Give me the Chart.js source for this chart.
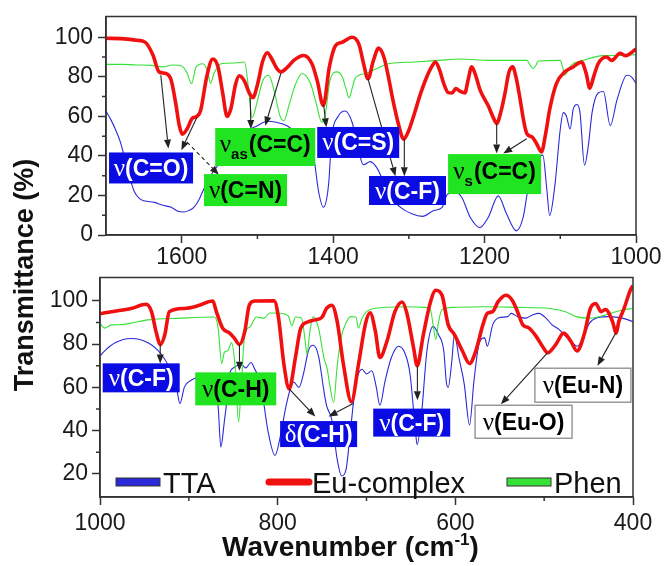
<!DOCTYPE html>
<html>
<head>
<meta charset="utf-8">
<script src="https://cdn.jsdelivr.net/npm/chart.js@4.4.1/dist/chart.umd.min.js"></script>
<style>
  body { margin: 0; background: #fff; width: 665px; height: 566px; overflow: hidden; position: relative; font-family: "Liberation Sans", Arial, sans-serif; }
  #top { position: absolute; left: 0; top: 0; }
  #bot { position: absolute; left: 0; top: 262px; }
  #ytitle { position: absolute; left: -126px; top: 259px; width: 300px; height: 32px; line-height: 32px; text-align: center; font-weight: bold; font-size: 27px; color: #111; transform: rotate(-90deg); white-space: nowrap; }
  #xtitle { position: absolute; left: 84px; top: 532px; width: 533px; line-height: 30px; text-align: center; font-weight: bold; font-size: 28px; color: #111; white-space: nowrap; }
  #xtitle sup { font-size: 17px; vertical-align: 11px; line-height: 0; }
</style>
</head>
<body>
<canvas id="top" width="665" height="272"></canvas>
<canvas id="bot" width="665" height="304"></canvas>
<div id="ytitle">Transmittance (%)</div>
<div id="xtitle">Wavenumber (cm<sup>-1</sup>)</div>
<script>
// ---- upper panel, 1700-1000 cm-1 ----
var euTopWn = [1700,1680,1660,1648,1638,1630,1621,1614,1608,1603,1599,1593,1586,1580,1575,1567,1559,1552,1546,1540,1535,1529,1524,1517,1511,1506,1500,1493,1487,1481,1474,1469,1460,1452,1439,1428,1421,1413,1405,1397,1388,1375,1366,1360,1354,1347,1340,1333,1327,1322,1313,1307,1300,1293,1285,1278,1270,1265,1259,1254,1248,1243,1238,1232,1226,1222,1217,1212,1206,1195,1188,1184,1178,1173,1168,1163,1158,1153,1148,1144,1137,1131,1125,1119,1114,1105,1094,1083,1072,1066,1061,1056,1050,1039,1032,1021,1014,1000];
var euTopT  = [99.5,99.3,98.5,97.4,91,82.5,81.7,78.4,66.8,55,51,53.6,59,60,63,80,89,85,72,60,64,76,80.5,77.7,72,69.5,76,88,92.2,89,84,82.5,85,88.3,90.8,86.6,78,65.5,85,95.7,97.5,100,96.5,87,79,88,94.5,90,80,70,55,48.5,53,61,71,78.4,85,87.5,83,76.7,72,71.8,74,72.6,71.8,78,85,81,73.4,65.2,59,56.4,63,71.8,82,85,79,68.5,57,51.2,49.5,46,42,52,63.5,76.7,82.5,85,87.5,82,74.3,80,86.6,90,88.3,91.9,90.7,94];

var phenTopWn = [1700,1680,1660,1640,1625,1612,1600,1593,1587,1581,1572,1566,1562,1557,1548,1530,1517,1512,1507,1500,1493,1485,1478,1470,1465,1458,1450,1441,1430,1422,1415,1410,1404,1395,1388,1383,1379,1375,1371,1357,1342,1327,1293,1260,1232,1193,1144,1140,1136,1132,1129,1100,1097,1094,1090,1085,1072,1043,1020,1000];
var phenTopT  = [86.3,86.3,86,85.8,85,86,85.5,82,76.5,85,86.6,83,76.7,82,86.6,87,87.5,75,59.4,68,78,80.8,73,60,57.8,66,76,81.7,76.7,66,57,62,78.4,82.5,80,74,69.3,74,79.2,81.7,84.2,86.6,87.5,88.3,89,88.3,88.3,86,84.2,86,88,88.3,85,80.8,83,86,88,90.7,90.8,91.2];

var ttaTopWn = [1700,1694,1687,1681,1676,1672,1667,1663,1656,1650,1636,1625,1614,1605,1597,1590,1584,1577,1570,1561,1550,1535,1517,1500,1487,1475,1461,1450,1440,1432,1426,1419,1413,1406,1402,1393,1384,1375,1366,1360,1351,1342,1333,1324,1311,1296,1282,1267,1256,1249,1238,1230,1219,1206,1195,1182,1171,1158,1149,1143,1133,1123,1118,1114,1107,1100,1096,1092,1087,1083,1078,1074,1068,1063,1058,1050,1043,1034,1025,1012,1006,1000];
var ttaTopT  = [62.7,58.6,53,47,40,33.8,27,22.3,18.5,17.3,16.5,15,14,12,11.6,12.5,14,18,23.9,30.5,36.3,45.4,52,55.3,57.5,57,55.3,52,48,45,40,21.5,14,25.6,48.7,60.2,62.7,57,42,35.5,37.1,33.8,26.4,19,14,10.7,9.4,12.4,14,20.6,21.5,19,9,3.8,9,19.8,10.7,2.1,9,22.3,36,40.4,23.9,9.9,25.6,53.6,61.9,60.2,53.6,63.5,66,62,35.3,45,61.9,71.8,72.6,55.3,68.5,80.8,80,76.7];

// ---- lower panel, 1000-400 cm-1 ----
var euBotWn = [1000,987,965,948,942,937,932,927,922,905,890,873,869,862,854,849,843,837,832,826,804,799,793,787,780,774,765,758,750,745,739,733,726,717,709,701,696,690,685,677,668,660,655,647,643,636,628,622,615,608,601,592,584,577,569,564,558,552,543,536,530,524,517,509,502,496,487,478,470,463,455,448,442,436,431,423,419,416,410,403,400];
var euBotT  = [94,95,96.5,98.4,95,85.9,79.8,84.4,95,96.5,97.7,99.9,95,87.4,85.1,82.9,79.8,85.9,98,99.9,100,92,70.7,59.3,73.8,87.4,90.4,91.2,92.5,96.5,98,90.4,70.7,53.3,70.7,89.7,94.5,85.9,73.8,81.3,95,99.5,95,78.3,70,84.4,99.5,104.9,102.6,88.9,84.4,76.8,71,76.8,88.9,94.2,95,99.5,102.6,100.3,95,88.9,87.4,83.6,79,76,79.8,85.1,81.3,76.8,84.4,96.5,98.8,95,96,90.4,85.1,90.4,96.5,104.9,107];

var phenBotWn = [1000,995,987,976,965,946,909,871,867,863,860,856,852,848,844,841,837,831,824,815,809,798,788,784,780,773,769,767,764,760,754,748,744,741,737,733,728,724,718,712,709,705,700,692,655,634,628,625,622,619,615,602,569,530,494,476,464,449,431,412,400];
var phenBotT  = [89.7,87.4,88.9,89,89.7,91.2,92,92.5,87.4,71,76.2,77,80.7,70,44,61,84.4,88,92.5,92,94.4,94.3,93,88.5,92.5,92,81.3,75.3,85,92.7,87.4,73.8,68,60.1,53,70,84,88.9,92.7,92.5,87.4,92,95,96.5,97.3,97,96,88.9,82.1,90,96,97,97.3,97,96.5,95,92.7,92,93.5,95.8,96.5];

var ttaBotWn = [1000,995,983,965,946,931,922,914,910,905,897,888,879,873,867,864,860,856,854,849,841,836,830,826,819,811,803,797,790,782,776,771,765,760,754,748,745,739,733,728,723,718,712,705,700,694,689,685,679,672,664,657,651,645,643,638,632,625,619,613,610,608,604,601,596,590,584,579,573,567,564,558,551,541,537,530,521,513,506,498,491,483,476,468,463,457,449,440,427,412,400];
var ttaBotT  = [74.5,76.8,80.6,82.6,80.6,75.3,69.2,60.1,52.5,60.1,63.4,64.8,64.6,63,51,32.4,44.3,58,66.2,69.2,70.7,69,71.5,68.6,61.6,40,28.5,37.3,52.5,62.4,60,66.2,77.5,79.5,74.5,58.5,51.7,44.9,26.7,19.1,22.1,40.3,61.6,68.4,66.2,67.7,60.1,51.7,63.1,73.8,79,76,66.2,40.3,33.5,47.9,76.8,88.2,84.4,76.8,62,60,72,84.4,73.8,61.6,42.6,63.1,80.6,82.9,79,88.9,92.2,92.7,94.2,92.7,92,93.5,94.2,92,88.9,86.7,83.6,80.6,79,82.1,89.7,92.2,92.7,92,90.4];

var topXTicks = [1000, 1200, 1400, 1600];
var topXMinor = [1100, 1300, 1500];
var topYTicks = [0, 20, 40, 60, 80, 100];
var topYMinor = [10, 30, 50, 70, 90];
var botXTicks = [400, 600, 800, 1000];
var botXMinor = [500, 700, 900];
var botYTicks = [20, 40, 60, 80, 100];
var botYMinor = [30, 50, 70, 90];

var RED = '#f01010', BLUE = '#2a2ad8', GREEN = '#36e236';
var BLUE_BOX = '#0b0be3', GREEN_BOX = '#1fe41f';

// band labels: centre and arrows in data units
var topNotes = [
  { g: 'ν', t: '(C=O)', x: 1640.5, y: 33.9, w: 84, h: 31, bg: BLUE_BOX, fg: '#fff', arrows: [[1627.6, 80.8, 1617.6, 43.7], [1580, 59.4, 1600.5, 42.9]] },
  { g: 'ν', t: '(C=N)', x: 1515.7, y: 22.7, w: 83, h: 32, bg: GREEN_BOX, fg: '#000', dash: true, arrows: [[1593, 47, 1551, 30.5]] },
  { g: 'ν', s: 'as', t: '(C=C)', x: 1489.7, y: 44.5, w: 100, h: 38, bg: GREEN_BOX, fg: '#000', arrows: [[1509.5, 69.3, 1508.6, 53.6], [1469, 81.7, 1489.7, 55.3]] },
  { g: 'ν', t: '(C=S)', x: 1366.9, y: 46.8, w: 82, h: 31, bg: BLUE_BOX, fg: '#fff', arrows: [[1412.6, 66, 1409, 54.5]] },
  { g: 'ν', t: '(C-F)', x: 1301.8, y: 22.5, w: 77, h: 29, bg: BLUE_BOX, fg: '#fff', arrows: [[1354, 79, 1317.7, 29.7], [1306, 48.7, 1306, 29.7]] },
  { g: 'ν', s: 's', t: '(C=C)', x: 1186.8, y: 30.8, w: 93, h: 40, bg: GREEN_BOX, fg: '#000', arrows: [[1184, 56.1, 1184, 41.2], [1144.4, 48.7, 1175.3, 41.2]] }
];
var botNotes = [
  { g: 'ν', t: '(C-F)', x: 953.6, y: 64.4, w: 77, h: 29, bg: BLUE_BOX, fg: '#fff', arrows: [[932.2, 79.8, 932.2, 71]] },
  { g: 'ν', t: '(C-H)', x: 847.2, y: 59.3, w: 81, h: 33, bg: GREEN_BOX, fg: '#000', arrows: [[843, 79.8, 843, 67.7]] },
  { g: 'δ', t: '(C-H)', x: 753.9, y: 38.4, w: 77, h: 26, bg: BLUE_BOX, fg: '#fff', arrows: [[787, 59.3, 757.6, 46.5], [715, 52.5, 742.7, 46.5]] },
  { g: 'ν', t: '(C-F)', x: 649.1, y: 43.7, w: 77, h: 28, bg: BLUE_BOX, fg: '#fff', arrows: [[642.7, 69.9, 642.7, 54]] },
  { g: 'ν', t: '(Eu-O)', x: 523.2, y: 44.1, w: 97, h: 33, bg: '#fff', fg: '#000', edge: '#8a8a8a', arrows: [[496.3, 76, 548.7, 52.2]] },
  { g: 'ν', t: '(Eu-N)', x: 456.4, y: 61, w: 96, h: 34, bg: '#fff', fg: '#000', edge: '#8a8a8a', arrows: [[419.4, 85.1, 440, 70]] }
];

function pts(wn, t) {
  return wn.map(function (w, i) { return { x: w, y: t[i] }; });
}

function arrow(ctx, x1, y1, x2, y2, dash) {
  var ang = Math.atan2(y2 - y1, x2 - x1), L = 9, W = 3.5;
  var bx = x2 - L * Math.cos(ang), by = y2 - L * Math.sin(ang);
  ctx.strokeStyle = '#222';
  ctx.lineWidth = 1.1;
  ctx.setLineDash(dash ? [4, 3] : []);
  ctx.beginPath(); ctx.moveTo(x1, y1); ctx.lineTo(bx, by); ctx.stroke();
  ctx.setLineDash([]);
  ctx.fillStyle = '#222';
  ctx.beginPath();
  ctx.moveTo(x2, y2);
  ctx.lineTo(bx + W * Math.sin(ang), by - W * Math.cos(ang));
  ctx.lineTo(bx - W * Math.sin(ang), by + W * Math.cos(ang));
  ctx.closePath(); ctx.fill();
}

function box(ctx, n, cx, cy) {
  var x0 = cx - n.w / 2, y0 = cy - n.h / 2;
  ctx.fillStyle = n.bg;
  ctx.fillRect(x0, y0, n.w, n.h);
  if (n.edge) { ctx.strokeStyle = n.edge; ctx.lineWidth = 1.3; ctx.strokeRect(x0, y0, n.w, n.h); }
  var fBig = 'bold 23px "Liberation Sans"', fGreek = '25px "Liberation Serif"', fSub = 'bold 15px "Liberation Sans"';
  ctx.font = fGreek; var gw = ctx.measureText(n.g).width;
  ctx.font = fSub; var sw = n.s ? ctx.measureText(n.s).width + 1 : 0;
  ctx.font = fBig; var tw = ctx.measureText(n.t).width;
  var x = cx - (gw + sw + tw) / 2, base = cy + 8 - (n.s ? 3 : 0);
  ctx.fillStyle = n.fg; ctx.textAlign = 'left'; ctx.textBaseline = 'alphabetic';
  ctx.font = fGreek; ctx.fillText(n.g, x, base);
  if (n.s) { ctx.font = fSub; ctx.fillText(n.s, x + gw, base + 7); }
  ctx.font = fBig; ctx.fillText(n.t, x + gw + sw, base);
}

var decor = {
  id: 'decor',
  afterDatasetsDraw: function (chart, args, o) {
    var ctx = chart.ctx, a = chart.chartArea, xs = chart.scales.x, ys = chart.scales.y;
    ctx.save();
    ctx.strokeStyle = '#333'; ctx.lineWidth = 1.5;
    ctx.beginPath();
    o.xMinor.forEach(function (v) { var p = xs.getPixelForValue(v); ctx.moveTo(p, a.bottom); ctx.lineTo(p, a.bottom + 4); });
    o.yMinor.forEach(function (v) { var p = ys.getPixelForValue(v); ctx.moveTo(a.left, p); ctx.lineTo(a.left - 4, p); });
    ctx.stroke();
    ctx.strokeRect(a.left, a.top, a.right - a.left, a.bottom - a.top);
    o.notes.forEach(function (n) {
      n.arrows.forEach(function (r) {
        arrow(ctx, xs.getPixelForValue(r[0]), ys.getPixelForValue(r[1]), xs.getPixelForValue(r[2]), ys.getPixelForValue(r[3]), n.dash);
      });
    });
    o.notes.forEach(function (n) { box(ctx, n, xs.getPixelForValue(n.x), ys.getPixelForValue(n.y)); });
    if (o.legend) {
      var y = a.bottom - 15;
      o.legend.forEach(function (it) {
        var ds = chart.data.datasets[it.ds], x = a.left + it.dx;
        if (it.round) {
          ctx.strokeStyle = ds.borderColor; ctx.lineWidth = 7; ctx.lineCap = 'round';
          ctx.beginPath(); ctx.moveTo(x + 4, y); ctx.lineTo(x + 44, y); ctx.stroke();
        } else {
          ctx.fillStyle = ds.borderColor; ctx.fillRect(x, y - 4, 44, 8);
          ctx.strokeStyle = '#333'; ctx.lineWidth = 1; ctx.strokeRect(x, y - 4, 44, 8);
        }
        ctx.fillStyle = '#111'; ctx.font = '29px "Liberation Sans"'; ctx.textBaseline = 'alphabetic';
        ctx.fillText(ds.label, x + 47, a.bottom - 4.5);
      });
    }
    ctx.restore();
  }
};

function plain(v) { return String(v); }

function panel(id, cfg) {
  var tickFont = { size: 23, family: '"Liberation Sans", Arial', lineHeight: 1 };
  return new Chart(document.getElementById(id), {
    type: 'line',
    data: {
      datasets: [
        { label: 'Eu-complex', data: pts(cfg.eu[0], cfg.eu[1]), borderColor: RED, borderWidth: 3.6 },
        { label: 'Phen', data: pts(cfg.phen[0], cfg.phen[1]), borderColor: GREEN, borderWidth: 1.1 },
        { label: 'TTA', data: pts(cfg.tta[0], cfg.tta[1]), borderColor: BLUE, borderWidth: 1.1 }
      ]
    },
    options: {
      responsive: false,
      animation: false,
      layout: { padding: { left: 0, right: cfg.padRight, top: 12, bottom: 0 } },
      elements: { point: { radius: 0 }, line: { cubicInterpolationMode: 'monotone' } },
      plugins: {
        legend: { display: false },
        tooltip: { enabled: false },
        decor: { xMinor: cfg.xMinor, yMinor: cfg.yMinor, notes: cfg.notes, legend: cfg.legend }
      },
      scales: {
        x: {
          type: 'linear', reverse: true, min: cfg.xMin, max: cfg.xMax,
          afterBuildTicks: function (s) { s.ticks = cfg.xTicks.map(function (v) { return { value: v }; }); },
          afterFit: function (s) { s.height = cfg.xH; },
          grid: { drawOnChartArea: false, tickLength: 8, tickColor: '#333', tickWidth: 1.5 },
          border: { color: '#333', width: 1.5 },
          ticks: { font: tickFont, color: '#1a1a1a', padding: cfg.xPad, maxRotation: 0, autoSkip: false, callback: plain }
        },
        y: {
          min: cfg.yMin, max: cfg.yMax,
          afterBuildTicks: function (s) { s.ticks = cfg.yTicks.map(function (v) { return { value: v }; }); },
          afterFit: function (s) { s.width = cfg.yW; },
          grid: { drawOnChartArea: false, tickLength: 8, tickColor: '#333', tickWidth: 1.5 },
          border: { color: '#333', width: 1.5 },
          ticks: { font: tickFont, color: '#1a1a1a', padding: cfg.yPad, autoSkip: false, callback: plain }
        }
      }
    },
    plugins: [decor]
  });
}

panel('top', {
  eu: [euTopWn, euTopT], phen: [phenTopWn, phenTopT], tta: [ttaTopWn, ttaTopT],
  xMin: 1000, xMax: 1700, yMin: 0, yMax: 110.5,
  xTicks: topXTicks, xMinor: topXMinor, yTicks: topYTicks, yMinor: topYMinor,
  xH: 37, yW: 106, padRight: 29, xPad: 3, yPad: 5, notes: topNotes
});

panel('bot', {
  eu: [euBotWn, euBotT], phen: [phenBotWn, phenBotT], tta: [ttaBotWn, ttaBotT],
  xMin: 400, xMax: 1000, yMin: 9.3, yMax: 110.8,
  xTicks: botXTicks, xMinor: botXMinor, yTicks: botYTicks, yMinor: botYMinor,
  xH: 69, yW: 100, padRight: 32, xPad: 7, yPad: 4, notes: botNotes,
  legend: [{ ds: 2, dx: 16 }, { ds: 0, dx: 165, round: true }, { ds: 1, dx: 407 }]
});
</script>
</body>
</html>
